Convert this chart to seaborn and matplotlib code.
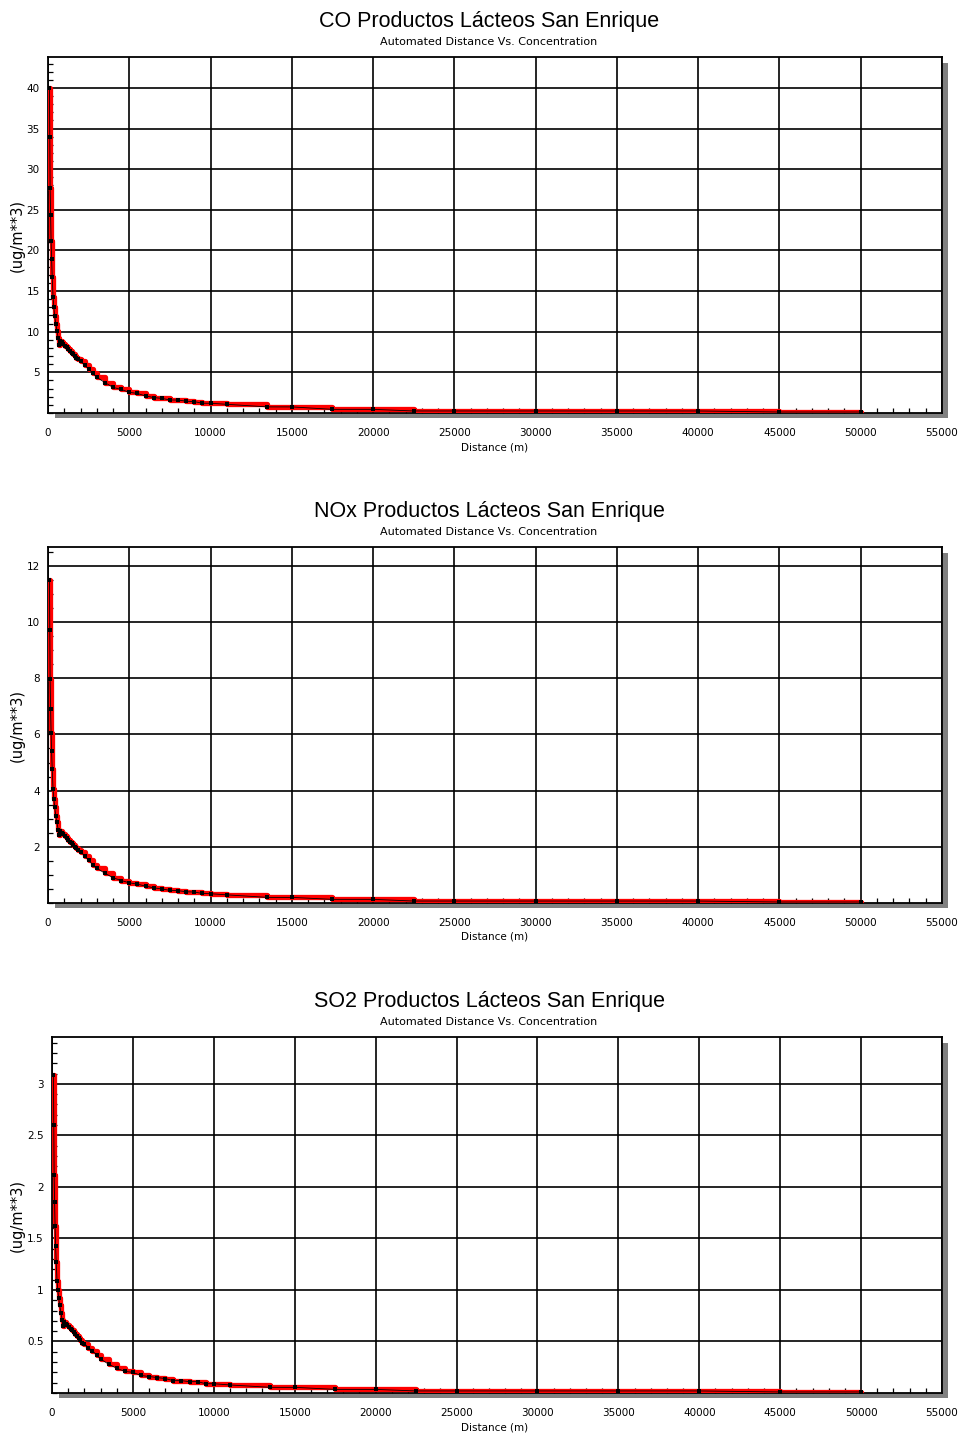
import matplotlib
matplotlib.use("Agg")
import matplotlib.pyplot as plt
from matplotlib.patches import Rectangle
from matplotlib.ticker import MultipleLocator, FixedLocator, FixedFormatter
import pandas as pd
import seaborn as sns

# ---------------- data ----------------
distance_m = [90, 110, 130, 160, 190, 220, 260, 310, 360, 410, 480, 550, 630, 700,
              760, 850, 950, 1050, 1150, 1250, 1350, 1450, 1550, 1650, 1750, 1850, 2000,
              2250, 2500, 2750, 3000, 3500, 4000, 4500, 5000, 5500, 6000, 6500, 7000,
              7500, 8000, 8500, 9000, 9500, 10000, 11000, 13500, 15000, 17500, 20000,
              22500, 25000, 30000, 35000, 40000, 45000, 50000]

co_conc = [40.0, 34.0, 27.7, 24.3, 21.2, 19.0, 16.7, 14.3, 13.0, 11.9, 11.0, 10.1, 9.2, 8.4,
           8.9, 8.7, 8.5, 8.3, 8.1, 7.9, 7.6, 7.4, 7.2, 7.0, 6.8, 6.6, 6.4,
           5.9, 5.4, 4.9, 4.4, 3.75, 3.15, 2.9, 2.55, 2.4, 2.1, 1.9, 1.8,
           1.6, 1.6, 1.45, 1.4, 1.2, 1.2, 1.07, 0.75, 0.75, 0.45, 0.45,
           0.25, 0.25, 0.25, 0.25, 0.25, 0.12, 0.12]

nox_conc = [11.5, 9.7, 7.96, 6.9, 6.06, 5.4, 4.76, 4.05, 3.7, 3.41, 3.1, 2.87, 2.6, 2.42,
            2.55, 2.5, 2.44, 2.38, 2.32, 2.25, 2.18, 2.12, 2.06, 2.0, 1.94, 1.88, 1.83,
            1.68, 1.52, 1.37, 1.24, 1.06, 0.9, 0.8, 0.72, 0.67, 0.6, 0.54, 0.5,
            0.45, 0.44, 0.4, 0.39, 0.34, 0.33, 0.29, 0.2, 0.2, 0.13, 0.13,
            0.07, 0.07, 0.07, 0.07, 0.07, 0.035, 0.035]

so2_conc = [3.09, 2.6, 2.12, 1.85, 1.62, 1.43, 1.27, 1.09, 1.0, 0.92, 0.85, 0.78, 0.71, 0.65,
            0.69, 0.67, 0.66, 0.64, 0.62, 0.61, 0.59, 0.57, 0.55, 0.53, 0.51, 0.49, 0.48,
            0.44, 0.41, 0.37, 0.33, 0.28, 0.24, 0.21, 0.2, 0.17, 0.16, 0.15, 0.14,
            0.12, 0.12, 0.11, 0.11, 0.09, 0.09, 0.078, 0.055, 0.055, 0.035, 0.035,
            0.02, 0.02, 0.02, 0.02, 0.02, 0.01, 0.01]

titles = ["CO Productos Lácteos San Enrique",
          "NOx Productos Lácteos San Enrique",
          "SO2 Productos Lácteos San Enrique"]
subtitle = "Automated Distance Vs. Concentration"
x_label = "Distance (m)"
y_label = "(ug/m**3)"
x_ticks = [0, 5000, 10000, 15000, 20000, 25000, 30000, 35000, 40000, 45000, 50000, 55000]
co_yticks = [5, 10, 15, 20, 25, 30, 35, 40]
co_ylabels = ["5", "10", "15", "20", "25", "30", "35", "40"]
nox_yticks = [2, 4, 6, 8, 10, 12]
nox_ylabels = ["2", "4", "6", "8", "10", "12"]
so2_yticks = [0.5, 1.0, 1.5, 2.0, 2.5, 3.0]
so2_ylabels = ["0.5", "1", "1.5", "2", "2.5", "3"]

# ---------------- style ----------------
sns.set_theme(style="white")
plt.rcParams['font.family'] = ['DejaVu Sans']

W, H = 961, 1434
fig = plt.figure(figsize=(W / 100, H / 100), dpi=100)
fig.patch.set_facecolor("white")

panels = [
    dict(conc=co_conc, title=titles[0], yt=co_yticks, yl=co_ylabels, ymax=43.8, yminor=1.0, left=48, top=57),
    dict(conc=nox_conc, title=titles[1], yt=nox_yticks, yl=nox_ylabels, ymax=12.67, yminor=0.5, left=48, top=547),
    dict(conc=so2_conc, title=titles[2], yt=so2_yticks, yl=so2_ylabels, ymax=3.455, yminor=0.1, left=52, top=1037),
]

right_px = 942
height_px = 356

for p in panels:
    left, top = p["left"], p["top"]
    bottom = top + height_px
    wpx = right_px - left
    ax = fig.add_axes([left / W, 1 - bottom / H, wpx / W, height_px / H])
    ax.set_facecolor("white")

    # drop shadow
    shadow = Rectangle(((left + 7) / W, 1 - (bottom + 5) / H), (wpx - 1) / W, (height_px - 1) / H,
                       transform=fig.transFigure, facecolor="#808080", edgecolor="none", zorder=-1)
    fig.add_artist(shadow)

    df = pd.DataFrame({"distance": distance_m, "conc": p["conc"]})
    sns.lineplot(data=df, x="distance", y="conc", ax=ax, color="#ff0000", lw=3.8,
                 drawstyle="steps-post", zorder=3)
    sns.lineplot(data=df, x="distance", y="conc", ax=ax, color="black", lw=0.6,
                 marker="s", markersize=2.6, markeredgewidth=0, zorder=4)

    ax.set_xlim(0, 55000)
    ax.set_ylim(0, p["ymax"])
    ax.xaxis.set_major_locator(FixedLocator(x_ticks))
    ax.xaxis.set_major_formatter(FixedFormatter([str(t) for t in x_ticks]))
    ax.xaxis.set_minor_locator(MultipleLocator(1000))
    ax.yaxis.set_major_locator(FixedLocator(p["yt"]))
    ax.yaxis.set_major_formatter(FixedFormatter(p["yl"]))
    ax.yaxis.set_minor_locator(MultipleLocator(p["yminor"]))

    ax.grid(True, which="major", color="black", lw=1.2)
    ax.set_axisbelow(True)
    for s in ax.spines.values():
        s.set_visible(True)
        s.set_color("black")
        s.set_linewidth(1.3)

    ax.tick_params(axis="x", which="major", length=0, pad=11, labelsize=7.5, colors="black")
    ax.tick_params(axis="y", which="major", length=0, pad=6, labelsize=7.5, colors="black")
    ax.tick_params(which="minor", direction="in", length=3.8, width=0.9, color="black",
                   bottom=True, left=True)

    ax.set_xlabel(x_label, fontsize=7.5, color="black")
    ax.xaxis.set_label_coords((495 - left) / wpx, -29 / height_px)
    ax.set_ylabel(y_label, fontsize=10.5, color="black")
    ax.yaxis.set_label_coords((25 - left) / wpx, 0.5)

    ax.text((489 - left) / wpx, (bottom - (top - 36)) / height_px, p["title"], transform=ax.transAxes,
            ha="center", va="center", fontsize=15.5, family=["Liberation Sans", "DejaVu Sans"], color="black")
    ax.text((489 - left) / wpx, (bottom - (top - 15)) / height_px, subtitle, transform=ax.transAxes,
            ha="center", va="center", fontsize=8, color="black")

fig.savefig("out.png", dpi=100, facecolor="white")
